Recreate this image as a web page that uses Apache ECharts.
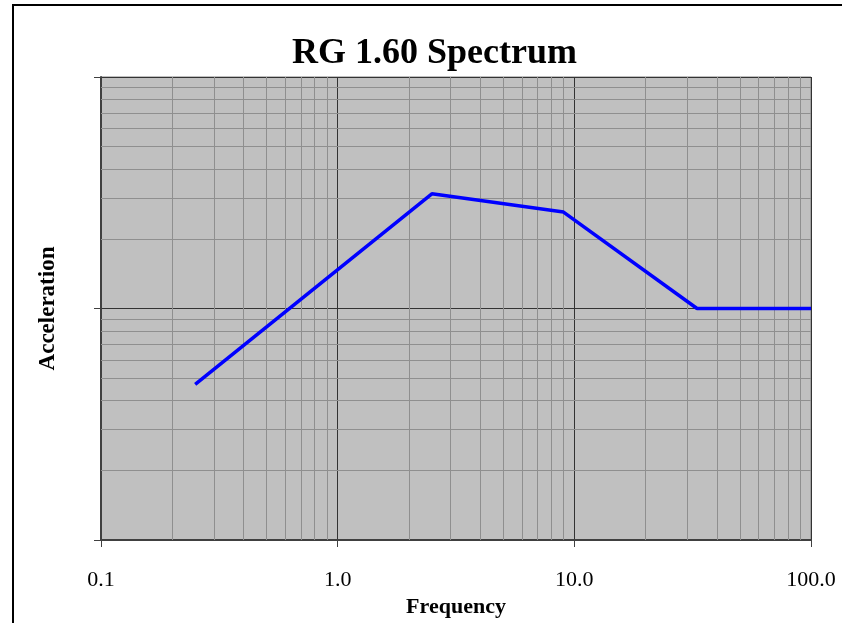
<!DOCTYPE html>
<html>
<head>
<meta charset="utf-8">
<script src="https://cdn.jsdelivr.net/npm/echarts@6/dist/echarts.min.js"></script>
<style>
  html, body { margin: 0; padding: 0; background: #fff; }
  #chart { width: 842px; height: 623px; }
</style>
</head>
<body>
<div id="chart"></div>
<script>
// spectrum corner points (Hz, g)
const frequency = [0.25, 2.5, 9, 33, 100];
const acceleration = [0.47, 3.13, 2.61, 1.0, 1.0];
// minor grid positions
const minorX = [0.2, 0.3, 0.4, 0.5, 0.6, 0.7, 0.8, 0.9, 2, 3, 4, 5, 6, 7, 8, 9, 20, 30, 40, 50, 60, 70, 80, 90];
const minorY = [0.2, 0.3, 0.4, 0.5, 0.6, 0.7, 0.8, 0.9, 2, 3, 4, 5, 6, 7, 8, 9];

const chart = echarts.init(document.getElementById("chart"));

const serif = "'Liberation Serif', 'Times New Roman', serif";
const minorLines = [];
minorX.forEach(function (v) { minorLines.push({ xAxis: v }); });
minorY.forEach(function (v) { minorLines.push({ yAxis: v }); });

const option = {
  backgroundColor: "#fff",
  animation: false,
  title: {
    text: "RG 1.60 Spectrum",
    left: 292,
    top: 36,
    padding: 0,
    textStyle: { fontFamily: serif, fontSize: 36, fontWeight: "bold", color: "#000" },
  },
  graphic: [
    {
      type: "rect",
      shape: { x: 13, y: 5, width: 900, height: 700 },
      style: { fill: "none", stroke: "#000", lineWidth: 2 },
      silent: true,
    },
  ],
  grid: {
    left: 101,
    top: 77,
    right: 31,
    bottom: 83,
    show: true,
    backgroundColor: "#c0c0c0",
    borderColor: "#808080",
    borderWidth: 1,
  },
  xAxis: {
    type: "log",
    logBase: 10,
    min: 0.1,
    max: 100,
    name: "Frequency",
    nameLocation: "middle",
    nameGap: 54,
    nameTextStyle: { fontFamily: serif, fontSize: 22, fontWeight: "bold", color: "#000" },
    axisLine: { lineStyle: { color: "#404040", width: 2 } },
    axisTick: { length: 7, lineStyle: { color: "#404040" } },
    axisLabel: {
      margin: 29,
      fontFamily: serif,
      fontSize: 22,
      color: "#000",
      formatter: function (v) { return Number(v).toFixed(1); },
    },
    splitLine: { show: true, lineStyle: { color: "#333", width: 1 } },
  },
  yAxis: {
    type: "log",
    logBase: 10,
    min: 0.1,
    max: 10,
    name: "Acceleration",
    nameLocation: "middle",
    nameGap: 41,
    nameTextStyle: { fontFamily: serif, fontSize: 23, fontWeight: "bold", color: "#000" },
    axisLine: { lineStyle: { color: "#404040", width: 2 } },
    axisTick: { length: 7, lineStyle: { color: "#404040" } },
    axisLabel: { show: false },
    splitLine: { show: true, lineStyle: { color: "#333", width: 1 } },
  },
  series: [
    {
      name: "grid",
      type: "line",
      data: [],
      z: 1,
      silent: true,
      markLine: {
        silent: true,
        symbol: "none",
        label: { show: false },
        animation: false,
        lineStyle: { color: "#8f8f8f", type: "solid", width: 1 },
        data: minorLines,
      },
    },
    {
      name: "RG 1.60",
      type: "line",
      z: 5,
      symbol: "none",
      lineStyle: { color: "#0000ff", width: 3.5 },
      data: frequency.map(function (f, i) { return [f, acceleration[i]]; }),
    },
  ],
};

chart.setOption(option);
</script>
</body>
</html>
